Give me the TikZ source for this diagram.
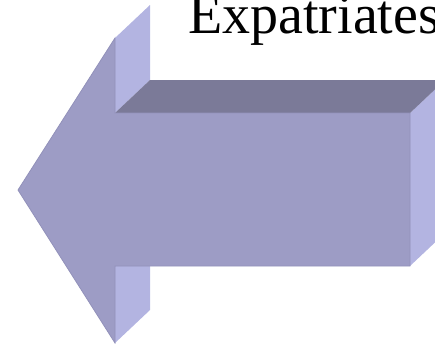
\documentclass[tikz,border=0pt]{standalone}
\usepackage{fontspec}
\setmainfont{Liberation Serif}
\definecolor{frontc}{HTML}{9D9CC5}
\definecolor{sidec}{HTML}{B3B4E1}
\definecolor{topc}{HTML}{7B7A98}
\definecolor{edgec}{HTML}{9291BA}
\tikzset{
  face/.style={line width=0.8pt, line join=miter},
}
\begin{document}
\begin{tikzpicture}[x=1pt,y=-1pt]
\useasboundingbox (0,0) rectangle (435,343);
\clip (0,0) rectangle (435,343);
% side faces
\fill[sidec] (115,38) -- (150,5) -- (150,80) -- (115,113) -- cycle;
\fill[sidec] (115,266) -- (150,233) -- (150,310) -- (115,343) -- cycle;
\fill[sidec] (410,113) -- (445,80) -- (445,233) -- (410,266) -- cycle;
% top face
\fill[topc] (115,113) -- (150,80) -- (445,80) -- (410,113) -- cycle;
% front face
\filldraw[face, fill=frontc, draw=edgec] (18,190) -- (115,38) -- (115,113) -- (410,113) -- (410,266) -- (115,266) -- (115,343) -- cycle;
\node[anchor=base west, inner sep=0pt, font=\fontsize{56}{56}\selectfont] (title) at (188,33) {Expatriates};
\end{tikzpicture}
\end{document}
